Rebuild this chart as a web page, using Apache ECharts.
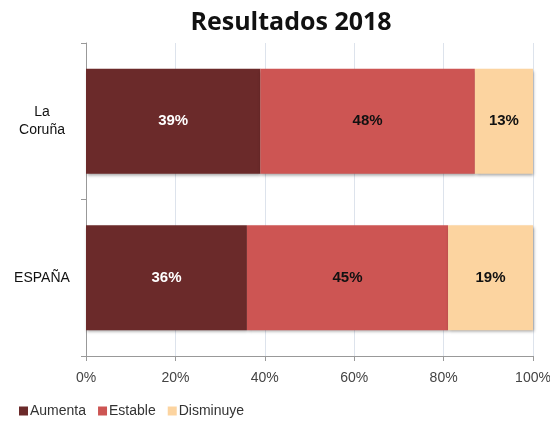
<!DOCTYPE html>
<html>
<head>
<meta charset="utf-8">
<script src="https://cdn.jsdelivr.net/npm/echarts@6/dist/echarts.min.js"></script>
<style>
    html, body { margin: 0; padding: 0; background: #fff; }
    #chart { width: 550px; height: 423px; }
</style>
</head>
<body>
<div id="chart"></div>
<script>
// datos
var regiones = ['ESPAÑA', 'La\nCoruña'];
var aumenta = [36, 39];
var estable = [45, 48];
var disminuye = [19, 13];
var ticksX = ['0%', '20%', '40%', '60%', '80%', '100%'];

var chart = echarts.init(document.getElementById('chart'));

function serie(nombre, datos, color, colorTexto) {
    return {
        name: nombre,
        type: 'bar',
        stack: 'total',
        barWidth: '67%',
        data: datos,
        itemStyle: {
            color: color,
            shadowColor: 'rgba(0,0,0,0.35)',
            shadowBlur: 3,
            shadowOffsetX: 1,
            shadowOffsetY: 2
        },
        label: {
            show: true,
            formatter: '{c}%',
            color: colorTexto,
            fontFamily: 'Liberation Sans, Arial, sans-serif',
            fontWeight: 'bold',
            fontSize: 15
        }
    };
}

chart.setOption({
    animation: false,
    title: {
        text: 'Resultados 2018',
        left: 286,
        textAlign: 'center',
        top: 5,
        textStyle: { fontFamily: 'Open Sans, sans-serif', fontWeight: 'bold', fontSize: 25, color: '#111' }
    },
    legend: {
        left: 14,
        bottom: 0,
        itemWidth: 9,
        itemHeight: 9,
        itemGap: 12,
        icon: 'rect',
        textStyle: { fontFamily: 'Liberation Sans, sans-serif', fontSize: 14, color: '#333', padding: [0, 0, 0, -3] },
        data: ['Aumenta', 'Estable', 'Disminuye']
    },
    grid: { left: 86, right: 17, top: 43, bottom: 67, outerBoundsMode: 'none' },
    xAxis: {
        type: 'value',
        min: 0,
        max: 100,
        interval: 20,
        axisLine: { show: true, lineStyle: { color: '#999' } },
        axisTick: { show: true, length: 5, lineStyle: { color: '#999' } },
        splitLine: { lineStyle: { color: '#dde3ec' } },
        axisLabel: {
            margin: 15,
            fontFamily: 'Liberation Sans, sans-serif',
            fontSize: 14,
            color: '#444',
            formatter: function (v) { return ticksX[v / 20]; }
        }
    },
    yAxis: {
        type: 'category',
        data: regiones,
        axisLine: { show: true, lineStyle: { color: '#999' } },
        axisTick: { show: true, length: 5, lineStyle: { color: '#999' } },
        axisLabel: {
            margin: 44,
            align: 'center',
            fontFamily: 'Liberation Sans, sans-serif',
            fontSize: 14,
            lineHeight: 18,
            color: '#111'
        }
    },
    series: [
        serie('Aumenta', aumenta, '#6b2a2a', '#fff'),
        serie('Estable', estable, '#cd5553', '#111'),
        serie('Disminuye', disminuye, '#fcd4a0', '#111')
    ]
});
</script>
</body>
</html>
